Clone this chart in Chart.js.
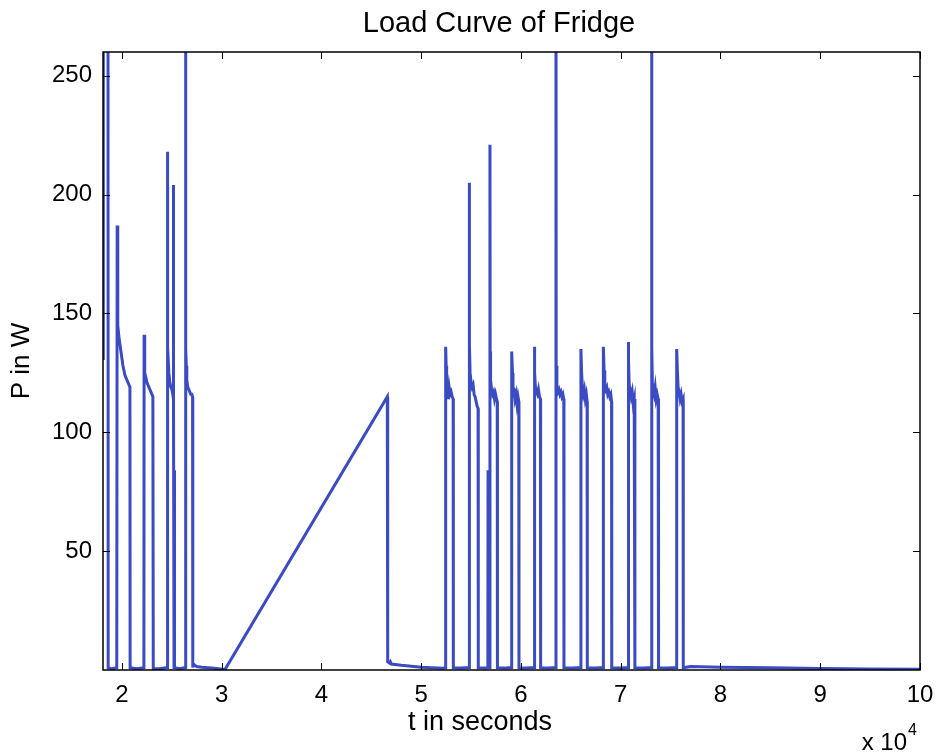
<!DOCTYPE html>
<html>
<head>
<meta charset="utf-8">
<title>Load Curve of Fridge</title>
<script src="https://cdn.jsdelivr.net/npm/chart.js@4.4.1/dist/chart.umd.min.js"></script>
<style>
  html, body { margin: 0; padding: 0; background: #fff; }
  #wrap { width: 940px; height: 755px; }
</style>
</head>
<body>
<div id="wrap"><canvas id="fridge" width="940" height="755"></canvas></div>
<script>
// === Measured fridge load (time in s, power in W) ===========================
// one line per compressor cycle; values above 260 W run off the top
const timeSec = [
  18100, 18130, 18600, 18620, 19000,
  19480, 19500, 19520, 19560, 19600, 19700, 19800, 19900, 20000, 20100, 20200, 20300, 20400, 20500, 20600, 20700, 20800, 20820,
  21500, 22200, 22220, 22260, 22300, 22400, 22500, 22600, 22700, 22800, 22900, 23000, 23100, 23140,
  23800, 24520, 24540, 24580, 24600, 24700, 24800, 24900, 25000, 25100, 25130, 25140, 25160, 25200, 25220, 25260, 25280,
  25800, 26360, 26380, 26400, 26450, 26500, 26600, 26700, 26800, 26900, 27000, 27080, 27100,
  27150, 27300, 27500, 28000, 29000, 30330,
  46600, 46640, 46800, 46900, 47000, 48000, 50000, 52200,
  52430, 52450, 52500, 52550, 52650, 52700, 52800, 52900, 53000, 53100, 53200, 53220,
  54000, 54800, 54820, 54840, 54900, 55000, 55100, 55200, 55300, 55400, 55500, 55600, 55700, 55720,
  56500, 56680, 56700, 56720, 56870, 56890, 56910, 56950, 57050, 57150, 57250, 57350, 57450, 57550, 57620, 57640,
  58500, 59050, 59070, 59150, 59200, 59300, 59400, 59500, 59600, 59700, 59780, 59800,
  60500, 61310, 61330, 61400, 61450, 61550, 61650, 61750, 61850, 61950, 61970,
  62800, 63490, 63510, 63530, 63600, 63700, 63800, 63900, 64000, 64100, 64200, 64290, 64310,
  65200, 65990, 66010, 66080, 66150, 66250, 66350, 66450, 66550, 66630, 66650,
  67500, 68240, 68260, 68330, 68400, 68500, 68600, 68700, 68800, 68900, 69000, 69080, 69100,
  70000, 70740, 70760, 70800, 70850, 70950, 71050, 71150, 71250, 71350, 71410, 71430,
  72300, 73080, 73100, 73120, 73170, 73250, 73350, 73450, 73550, 73650, 73750, 73790,
  74700, 75590, 75610, 75680, 75750, 75850, 75950, 76050, 76150, 76250, 76270,
  77000, 80000, 85000, 90000, 95000, 100000
];
const powerW = [
  131, 320, 310, 1, 0.5,
  1, 1, 187, 150, 145, 140, 137, 134, 131, 128, 126, 124, 123, 122, 121, 120, 119, 1,
  0.5, 1, 141, 137, 125, 123, 121, 120, 119, 118, 117, 116, 115, 0.5,
  0.5, 1, 218, 150, 136, 125, 121, 119, 118, 116, 115, 204, 118, 115, 1, 84, 1,
  0.5, 1, 320, 135, 128, 122, 119, 118, 117, 116, 116, 115, 1,
  2.5, 2, 1.5, 1.2, 0.8, 0.2,
  115, 3.5, 3, 3.5, 2.5, 2, 1.2, 0.7,
  1, 136, 128, 120, 118, 114, 119, 116, 117, 115, 114, 1,
  0.8, 1, 205, 137, 125, 121, 119, 120, 116, 115, 113, 111, 110, 1,
  0.8, 1, 84, 1, 1, 221, 134, 122, 118, 116, 117, 114, 116, 114, 113, 1,
  0.8, 1, 134, 125, 119, 118, 114, 116, 112, 115, 113, 1,
  0.8, 1, 136, 125, 119, 117, 116, 118, 115, 114, 1,
  0.8, 1, 320, 128, 119, 117, 118, 116, 117, 115, 116, 114, 1,
  0.8, 1, 135, 125, 119, 116, 118, 114, 116, 113, 1,
  0.8, 1, 136, 126, 120, 118, 119, 116, 117, 115, 116, 113, 1,
  0.8, 1, 138, 130, 120, 118, 115, 117, 112, 114, 112, 1,
  0.8, 1, 320, 136, 121, 118, 116, 119, 114, 116, 114, 1,
  0.8, 1, 135, 126, 119, 117, 114, 116, 113, 114, 1,
  1.5, 1.2, 0.9, 0.6, 0.4, 0.3
];

const xTicks = [20000, 30000, 40000, 50000, 60000, 70000, 80000, 90000, 100000];
const yTicks = [50, 100, 150, 200, 250];

const FONT = "'Liberation Sans', Arial, Helvetica, sans-serif";
const LINE_BLUE = "#3a4bc4";

// === Axes box, inward ticks, title, x label and the "x 10^4" exponent =======
const boxTicks = {
  id: "boxTicks",
  afterDraw(chart) {
    const { ctx, chartArea: a, scales } = chart;
    const len = 7;
    ctx.save();
    ctx.strokeStyle = "#000";
    ctx.lineWidth = 1;
    ctx.beginPath();
    xTicks.forEach(v => {
      const px = Math.round(scales.x.getPixelForValue(v)) + 0.5;
      ctx.moveTo(px, a.bottom); ctx.lineTo(px, a.bottom - len);
      ctx.moveTo(px, a.top); ctx.lineTo(px, a.top + len);
    });
    yTicks.forEach(v => {
      const py = Math.round(scales.y.getPixelForValue(v)) + 0.5;
      ctx.moveTo(a.left, py); ctx.lineTo(a.left + len, py);
      ctx.moveTo(a.right, py); ctx.lineTo(a.right - len, py);
    });
    ctx.stroke();
    ctx.lineWidth = 1.5;
    ctx.strokeRect(a.left, a.top, a.right - a.left, a.bottom - a.top);

    ctx.fillStyle = "#000";
    ctx.textAlign = "center";
    ctx.textBaseline = "middle";
    ctx.font = "29px " + FONT;
    ctx.fillText("Load Curve of Fridge", 499, 24);
    ctx.font = "27px " + FONT;
    ctx.fillText("t in seconds", 480, 723);

    ctx.textBaseline = "alphabetic";
    ctx.textAlign = "right";
    ctx.font = "24px " + FONT;
    ctx.fillText("x 10", 907, 750);
    ctx.textAlign = "left";
    ctx.font = "16px " + FONT;
    ctx.fillText("4", 908, 735);
    ctx.restore();
  }
};

const points = timeSec.map((t, i) => ({ x: t, y: powerW[i] }));

new Chart(document.getElementById("fridge"), {
  type: "line",
  data: {
    datasets: [{
      label: "P",
      data: points,
      borderColor: LINE_BLUE,
      borderWidth: 3,
      pointRadius: 0,
      tension: 0,
      fill: false,
    }],
  },
  options: {
    responsive: false,
    animation: false,
    layout: { padding: { top: 52, right: 20, bottom: 0, left: 0 } },
    plugins: {
      legend: { display: false },
      tooltip: { enabled: false },
      title: { display: false },
    },
    scales: {
      x: {
        type: "linear",
        min: 18100,
        max: 100000,
        // fixed band under the plot; the "10" label fits inside the layout padding
        afterFit: s => { s.height = 85; s.paddingLeft = 0; s.paddingRight = 0; },
        afterBuildTicks: s => { s.ticks = xTicks.map(v => ({ value: v })); },
        grid: { display: false, drawTicks: false },
        border: { display: false },
        ticks: {
          color: "#000",
          padding: 11,
          maxRotation: 0,
          font: { family: FONT, size: 24 },
          callback: v => String(v / 10000),
        },
      },
      y: {
        min: 0,
        max: 260,
        afterFit: s => { s.width = 103; },
        afterBuildTicks: s => { s.ticks = yTicks.map(v => ({ value: v })); },
        grid: { display: false, drawTicks: false },
        border: { display: false },
        ticks: {
          color: "#000",
          padding: 11,
          font: { family: FONT, size: 24 },
        },
        title: {
          display: true,
          text: "P in W",
          color: "#000",
          font: { family: FONT, size: 26 },
          padding: { top: 6, bottom: 0 },
        },
      },
    },
  },
  plugins: [boxTicks],
});
</script>
</body>
</html>
